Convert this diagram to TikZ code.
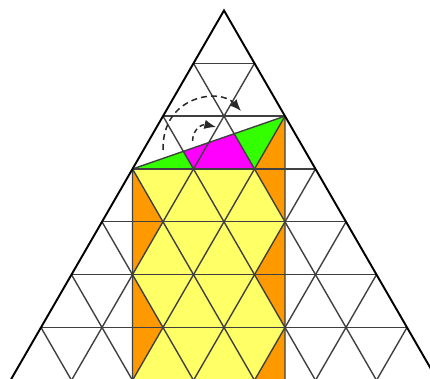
\documentclass[tikz,border=0pt]{standalone}
\usepackage{tikz}
\usetikzlibrary{arrows.meta}
\definecolor{figY}{RGB}{255,255,102}
\definecolor{figO}{RGB}{255,153,0}
\definecolor{figG}{RGB}{51,255,0}
\definecolor{figM}{RGB}{255,0,255}
\definecolor{figL}{RGB}{64,64,64}
\definecolor{figA}{RGB}{40,40,40}

\begin{document}
\begin{tikzpicture}[>={Latex[length=5.4pt,width=4.4pt]},x={(1cm,0cm)},y={(-0.5cm,-0.866cm)}]
% (j,k) = j-th lattice point of row k, counted from the apex
\useasboundingbox (-3.672cm,0.172cm) rectangle (3.377cm,-6.025cm);
\clip (-3.672cm,0.172cm) rectangle (3.377cm,-6.025cm);
% strip below the slanted triangle
\fill[figO] (0,3)--(2,3)--(2,2)--(5,8)--(2.5,8)--cycle;
\fill[figY] (0,3)--(2,3)--(3,4)--(3,5)--(4,6)--(4,7)--(5,8)--(3,8)--(2,7)--(2,6)--(1,5)--(1,4)--cycle;
\fill[figG] (0,3)--(2,2)--(2,3)--cycle;
\fill[figM] (1,3)--(2/3,8/3)--(4/3,7/3)--(2,3)--cycle;
% triangular grid
\foreach \k in {1,...,8} {
  \draw[figL,line width=0.65pt] (0,\k)--(\k,\k);
  \draw[figL,line width=0.65pt] (\k,\k)--(\k,8);
  \draw[figL,line width=0.65pt] (0,\k)--(8-\k,8);
}
\draw[figL,line width=0.65pt] (0,3)--(2,2);
\draw[figL,line width=0.65pt] (2,2)--(5,8) (0,3)--(2.5,8);
\draw[black,line width=0.9pt] (0,8)--(0,0)--(8,8);
% turning arrows
\draw[->,figA,line width=0.7pt,dash pattern=on 2.8pt off 1.9pt] (-1.0cm,-2.287cm) .. controls (-1.016cm,-1.385cm) and (-0.066cm,-1.270cm) .. (0.279cm,-1.648cm);
\draw[->,figA,line width=0.7pt,dash pattern=on 2.2pt off 1.7pt] (-0.516cm,-2.139cm) .. controls (-0.508cm,-1.926cm) and (-0.344cm,-1.861cm) .. (-0.131cm,-1.910cm);
\end{tikzpicture}
\end{document}
